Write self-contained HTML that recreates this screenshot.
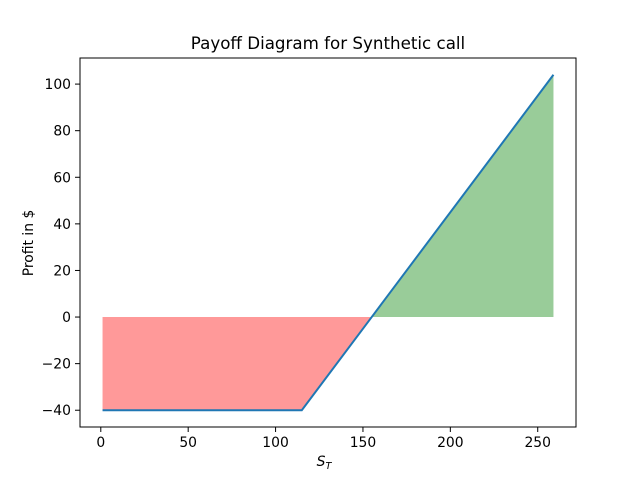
<!DOCTYPE html>
<html><head><meta charset="utf-8"><style>
body{margin:0;background:#fff;}
svg{display:block;font-family:"DejaVu Sans","Liberation Sans",sans-serif;}
</style></head><body>
<svg id="chart" width="640" height="480">
<rect width="640" height="480" fill="#fff"/>
<g id="fills"></g>
<g id="line"></g>
<g id="axes"></g>
</svg>
<script>
const stockPrices = [1, 115, 155, 259];
const profits = [-40, -40, 0, 104];
const xTicks = [0, 50, 100, 150, 200, 250];
const yTicks = [-40, -20, 0, 20, 40, 60, 80, 100];

const L=80,R=576,T=58,B=427;
const xmin=-11.9,xmax=271.9,ymin=-47.2,ymax=111.2;
const X=v=>L+(v-xmin)/(xmax-xmin)*(R-L);
const Y=v=>B-(v-ymin)/(ymax-ymin)*(B-T);
const NS="http://www.w3.org/2000/svg";
function mk(tag,attrs,parent){const e=document.createElementNS(NS,tag);for(const k in attrs)e.setAttribute(k,attrs[k]);parent.appendChild(e);return e;}
const fills=document.getElementById('fills'),lineG=document.getElementById('line'),axes=document.getElementById('axes');

let loss=[],gain=[];
for(let i=0;i<stockPrices.length;i++){
  if(profits[i]<=0) loss.push([stockPrices[i],profits[i]]);
  if(profits[i]>=0) gain.push([stockPrices[i],profits[i]]);
}
function area(pts){let d=`M${X(pts[0][0])},${Y(0)}`;pts.forEach(p=>d+=` L${X(p[0])},${Y(p[1])}`);d+=` L${X(pts[pts.length-1][0])},${Y(0)} Z`;return d;}
const lf=mk('path',{d:area(loss),fill:'#ff9999'},fills);


const gf=mk('path',{d:area(gain),fill:'#99cc99'},fills);



const pl=mk('polyline',{points:stockPrices.map((x,i)=>X(x)+','+Y(profits[i])).join(' '),fill:'none',stroke:'#1f77b4','stroke-width':2},lineG);



const frame=mk('rect',{x:L,y:T,width:R-L,height:B-T,fill:'none',stroke:'#000','stroke-width':1},axes);



xTicks.forEach(v=>{
  mk('line',{x1:X(v),x2:X(v),y1:B,y2:B+5,stroke:'#000','stroke-width':1},axes);
  const t=mk('text',{x:X(v),y:B+20,'text-anchor':'middle','font-size':13.9},axes);
  t.textContent=v;
  
  
});
yTicks.forEach(v=>{
  mk('line',{x1:L-5,x2:L,y1:Y(v),y2:Y(v),stroke:'#000','stroke-width':1},axes);
  const t=mk('text',{x:L-9,y:Y(v)+5,'text-anchor':'end','font-size':13.9},axes);
  t.textContent=v<0?'\u2212'+(-v):v;
  
  
});
</script>
<svg width="640" height="480" style="position:absolute;left:0;top:0">
<text x="328" y="49" text-anchor="middle" font-size="16.7" font-family="DejaVu Sans,Liberation Sans,sans-serif">Payoff Diagram for Synthetic call</text>
<text x="324" y="466" text-anchor="middle" font-size="13.9" font-style="italic" font-family="DejaVu Sans,Liberation Sans,sans-serif">S<tspan font-size="9.7" dy="3">T</tspan></text>
<text transform="translate(33,243) rotate(-90)" text-anchor="middle" font-size="13.9" font-family="DejaVu Sans,Liberation Sans,sans-serif">Profit in $</text>
</svg>
</body></html>
